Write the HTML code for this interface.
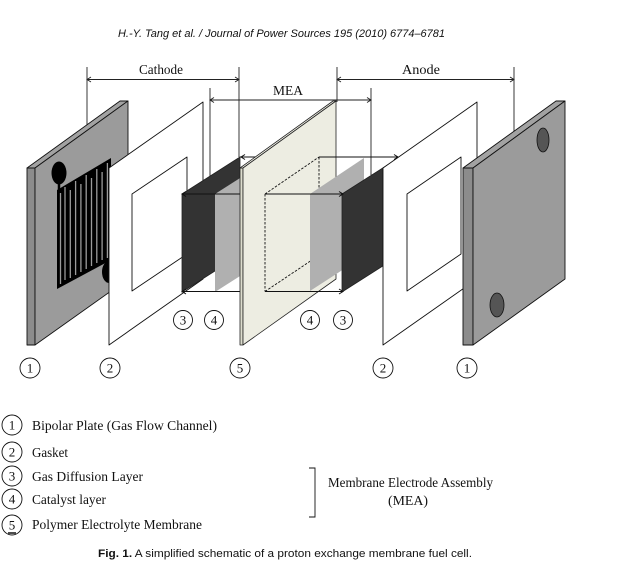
<!DOCTYPE html>
<html><head><meta charset="utf-8"><style>html,body{margin:0;padding:0;background:#fff}svg{display:block}</style></head>
<body>
<svg width="629" height="568" viewBox="0 0 629 568" xmlns="http://www.w3.org/2000/svg">
<rect width="629" height="568" fill="#fff"/>
<text x="281.5" y="37" font-family="Liberation Sans, sans-serif" font-style="italic" font-size="11" text-anchor="middle" textLength="327" lengthAdjust="spacingAndGlyphs" fill="#111">H.-Y. Tang et al. / Journal of Power Sources 195 (2010) 6774–6781</text>

<!-- dimension lines -->
<g stroke="#222" stroke-width="0.9" fill="none">
  <line x1="87" y1="67" x2="87" y2="125"/>
  <line x1="239" y1="67" x2="239" y2="157"/>
  <line x1="87" y1="79.5" x2="239" y2="79.5"/>
  <polyline points="91,77 87,79.5 91,82"/>
  <polyline points="235,77 239,79.5 235,82"/>
  <line x1="337" y1="67" x2="337" y2="102"/>
  <line x1="514" y1="67" x2="514" y2="131"/>
  <line x1="337" y1="79.5" x2="514" y2="79.5"/>
  <polyline points="341,77 337,79.5 341,82"/>
  <polyline points="510,77 514,79.5 510,82"/>
  <line x1="210" y1="88" x2="210" y2="176"/>
  <line x1="371" y1="88" x2="371" y2="175"/>
  <line x1="210" y1="100" x2="371" y2="100"/>
  <polyline points="214,97.5 210,100 214,102.5"/>
  <polyline points="367,97.5 371,100 367,102.5"/>
</g>
<g font-family="Liberation Serif, serif" font-size="13.5" fill="#111" text-anchor="middle">
  <text x="161" y="74" textLength="44" lengthAdjust="spacingAndGlyphs">Cathode</text>
  <text x="421" y="74" textLength="38" lengthAdjust="spacingAndGlyphs">Anode</text>
  <text x="288" y="95" textLength="30" lengthAdjust="spacingAndGlyphs">MEA</text>
</g>

<!-- left bipolar plate -->
<g stroke="#111" stroke-width="0.9" stroke-linejoin="round">
  <polygon points="27,168 35,168 35,345 27,345" fill="#8c8c8c"/>
  <polygon points="27,168 120,101 128,101 35,168" fill="#a2a2a2"/>
  <polygon points="35,168 128,101 128,279 35,345" fill="#9b9b9b"/>
</g>
<!-- serpentine -->
<ellipse cx="59" cy="173" rx="7.5" ry="11.5" fill="#000"/>
<line x1="59" y1="180" x2="59" y2="192" stroke="#000" stroke-width="2.5"/>
<polygon points="57,190 111,158 111,260 57,289" fill="#000"/>
<g stroke="#9b9b9b" stroke-width="1.3">
  <line x1="60.5" y1="193" x2="60.5" y2="284"/>
  <line x1="65" y1="187" x2="65" y2="280"/>
  <line x1="70.3" y1="190" x2="70.3" y2="278"/>
  <line x1="75.6" y1="181" x2="75.6" y2="275"/>
  <line x1="80.9" y1="184" x2="80.9" y2="272"/>
  <line x1="86.2" y1="175" x2="86.2" y2="269"/>
  <line x1="91.5" y1="178" x2="91.5" y2="266"/>
  <line x1="96.8" y1="169" x2="96.8" y2="263"/>
  <line x1="102.1" y1="172" x2="102.1" y2="260"/>
  <line x1="107.4" y1="163" x2="107.4" y2="258"/>
</g>
<ellipse cx="109" cy="272" rx="7" ry="11" fill="#000"/>

<!-- left gasket -->
<g stroke="#111" stroke-width="0.9" fill="#fff" stroke-linejoin="round">
  <polygon points="109,168 203,102 203,279 109,345"/>
  <polygon points="132,194 187,157 187,254 132,291"/>
</g>
<!-- left GDL & catalyst -->
<polygon points="182,194 240,157 240,255 182,292" fill="#333" stroke="#222" stroke-width="0.8"/>
<polygon points="215,194 273,157 273,255 215,292" fill="#b0b0b0"/>
<g stroke="#111" stroke-width="1" fill="none">
  <line x1="182" y1="194" x2="245" y2="194"/>
  <line x1="182" y1="291.5" x2="245" y2="291.5"/>
  <polyline points="186,191.5 182,194 186,196.5"/>
  <polyline points="186,289 182,291.5 186,294"/>
  <line x1="240" y1="157" x2="258" y2="157"/>
  <polyline points="245,154.5 241,157 245,159.5"/>
</g>

<!-- membrane -->
<g stroke="#222" stroke-width="0.8" stroke-linejoin="round">
  <polygon points="240,168 243,168 243,345 240,345" fill="#dcdccd"/>
  <polygon points="240,168 333,101 336,101 243,168" fill="#f4f4ea"/>
  <polygon points="243,168 336,101 336,279 243,345" fill="#ededE2"/>
</g>
<!-- dashed box in membrane -->
<g stroke="#111" stroke-width="0.9" fill="none" stroke-dasharray="2.5,1.5">
  <line x1="265" y1="194" x2="265" y2="291.5"/>
  <line x1="265" y1="194" x2="319" y2="157"/>
  <line x1="319" y1="157" x2="319" y2="200"/>
  <line x1="265" y1="291.5" x2="312" y2="260"/>
</g>
<!-- right catalyst & GDL -->
<polygon points="310,194 364,158 364,256 310,291" fill="#b0b0b0"/>
<polygon points="342,194 400,157 400,255 342,292" fill="#333" stroke="#222" stroke-width="0.8"/>
<g stroke="#111" stroke-width="1" fill="none">
  <line x1="265" y1="194" x2="343" y2="194"/>
  <line x1="265" y1="291.5" x2="343" y2="291.5"/>
  <polyline points="339,191.5 343,194 339,196.5"/>
  <polyline points="339,289 343,291.5 339,294"/>
</g>

<!-- right gasket -->
<g stroke="#111" stroke-width="0.9" fill="#fff" stroke-linejoin="round">
  <polygon points="383,168 477,102 477,279 383,345"/>
  <polygon points="407,194 461,157 461,254 407,291"/>
</g>
<g stroke="#111" stroke-width="1" fill="none">
  <line x1="319" y1="157" x2="398" y2="157"/>
  <polyline points="394,154.5 398,157 394,159.5"/>
</g>

<!-- right bipolar plate -->
<g stroke="#111" stroke-width="0.9" stroke-linejoin="round">
  <polygon points="463,168 473,168 473,345 463,345" fill="#8c8c8c"/>
  <polygon points="463,168 556,101 565,101 473,168" fill="#a2a2a2"/>
  <polygon points="473,168 565,101 565,279 473,345" fill="#9b9b9b"/>
</g>
<ellipse cx="543" cy="140" rx="6" ry="12" fill="#555" stroke="#111" stroke-width="0.8"/>
<ellipse cx="497" cy="305" rx="7" ry="12" fill="#555" stroke="#111" stroke-width="0.8"/>

<!-- circled numbers in diagram -->
<g stroke="#111" stroke-width="0.9" fill="#fff">
  <circle cx="183" cy="320" r="9.5"/>
  <circle cx="214" cy="320" r="9.5"/>
  <circle cx="310" cy="320" r="9.5"/>
  <circle cx="343" cy="320" r="9.5"/>
  <circle cx="30" cy="368" r="10"/>
  <circle cx="110" cy="368" r="10"/>
  <circle cx="240" cy="368" r="10"/>
  <circle cx="383" cy="368" r="10"/>
  <circle cx="467" cy="368" r="10"/>
</g>
<g font-family="Liberation Serif, serif" font-size="13" fill="#111" text-anchor="middle">
  <text x="183" y="324.5">3</text>
  <text x="214" y="324.5">4</text>
  <text x="310" y="324.5">4</text>
  <text x="343" y="324.5">3</text>
  <text x="30" y="372.5">1</text>
  <text x="110" y="372.5">2</text>
  <text x="240" y="372.5">5</text>
  <text x="383" y="372.5">2</text>
  <text x="467" y="372.5">1</text>
</g>

<!-- legend -->
<g stroke="#111" stroke-width="0.9" fill="#fff">
  <circle cx="12" cy="425" r="10"/>
  <circle cx="12" cy="452" r="10"/>
  <circle cx="12" cy="476" r="10"/>
  <circle cx="12" cy="499" r="10"/>
  <circle cx="12" cy="525" r="10"/>
</g>
<line x1="8" y1="533" x2="16" y2="533" stroke="#111" stroke-width="1.5"/>
<g font-family="Liberation Serif, serif" font-size="13" fill="#111" text-anchor="middle">
  <text x="12" y="429.5">1</text>
  <text x="12" y="456.5">2</text>
  <text x="12" y="480.5">3</text>
  <text x="12" y="503.5">4</text>
  <text x="12" y="529.5">5</text>
</g>
<g font-family="Liberation Serif, serif" font-size="13.5" fill="#111">
  <text x="32" y="430" textLength="185" lengthAdjust="spacingAndGlyphs">Bipolar Plate (Gas Flow Channel)</text>
  <text x="32" y="457" textLength="36" lengthAdjust="spacingAndGlyphs">Gasket</text>
  <text x="32" y="481" textLength="111" lengthAdjust="spacingAndGlyphs">Gas Diffusion Layer</text>
  <text x="32" y="504" textLength="74" lengthAdjust="spacingAndGlyphs">Catalyst layer</text>
  <text x="32" y="529" textLength="170" lengthAdjust="spacingAndGlyphs">Polymer Electrolyte Membrane</text>
  <text x="328" y="487" textLength="165" lengthAdjust="spacingAndGlyphs">Membrane Electrode Assembly</text>
  <text x="388" y="505" textLength="40" lengthAdjust="spacingAndGlyphs">(MEA)</text>
</g>
<polyline points="309,468 315,468 315,517 309,517" fill="none" stroke="#111" stroke-width="0.9"/>

<!-- caption -->
<text x="98" y="557" font-family="Liberation Sans, sans-serif" font-size="11" fill="#111" textLength="374" lengthAdjust="spacingAndGlyphs"><tspan font-weight="bold">Fig. 1.</tspan>  A simplified schematic of a proton exchange membrane fuel cell.</text>
</svg>
</body></html>
